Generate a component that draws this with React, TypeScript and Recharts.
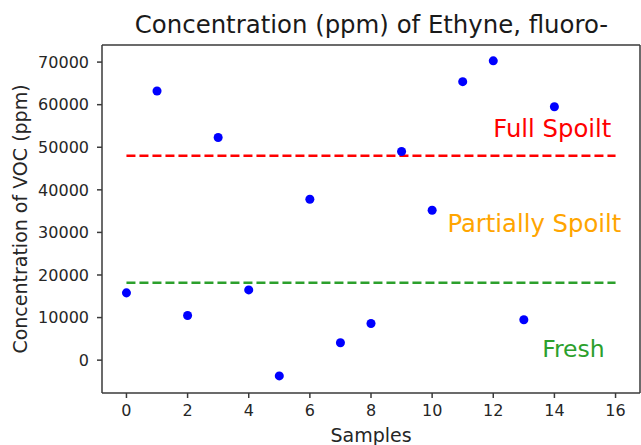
import {
  ScatterChart,
  Scatter,
  XAxis,
  YAxis,
  ReferenceLine,
  ReferenceDot,
  Label,
} from 'recharts';

const sampleIds = [0, 1, 2, 3, 4, 5, 6, 7, 8, 9, 10, 11, 12, 13, 14];
const concentrations = [
  15800, 63200, 10500, 52300, 16500, -3700, 37800, 4100, 8600, 49000, 35200, 65400, 70300, 9500, 59500,
];
const xTicks = [0, 2, 4, 6, 8, 10, 12, 14, 16];
const yTicks = [0, 10000, 20000, 30000, 40000, 50000, 60000, 70000];

const fullSpoiltLevel = 48000;
const freshLevel = 18200;
const thresholdStart = 0;
const thresholdEnd = 16;

const annotationTexts = ['Full Spoilt', 'Partially Spoilt', 'Fresh'];
const annotationX = [12, 10.5, 13.6];
const annotationY = [52400, 30000, 800];
const annotationColors = ['#ff0000', '#ffa500', '#2ca02c'];
const annotationSizes = [24.3, 24.3, 23.5];

const X_MIN = -0.8;
const X_MAX = 16.8;
const Y_MIN = -7715;
const Y_MAX = 74015;

const FONT = "'DejaVu Sans', sans-serif";
const SPINE = '#3a3a3a';

const points = sampleIds.map((s, i) => ({ x: s, y: concentrations[i] }));

function AnnotationLabel(props: any) {
  const { viewBox, text, color, size } = props;
  if (!viewBox) return null;
  return (
    <text
      x={viewBox.x + (viewBox.width || 0) / 2}
      y={viewBox.y + (viewBox.height || 0) / 2}
      fill={color}
      fontSize={size}
      fontFamily={FONT}
      textAnchor="start"
    >
      {text}
    </text>
  );
}

export default function App() {
  return (
    <div style={{ position: 'absolute', left: 0, top: 0, width: 641, height: 445, background: '#fff', fontFamily: FONT }}>
      <div
        style={{
          position: 'absolute',
          left: 102,
          top: 13,
          width: 539,
          textAlign: 'center',
          fontSize: 24.4,
          lineHeight: '24px',
          color: '#1a1a1a',
          whiteSpace: 'nowrap',
        }}
      >
        Concentration (ppm) of Ethyne, fluoro-
      </div>
      <ScatterChart width={641} height={445} margin={{ top: 45, right: 1, bottom: 0, left: 0 }}>
        <XAxis
          type="number"
          dataKey="x"
          domain={[X_MIN, X_MAX]}
          ticks={xTicks}
          allowDataOverflow
          height={52}
          tickSize={5}
          tickMargin={7}
          stroke={SPINE}
          strokeWidth={1.5}
          tick={{ fill: '#262626', fontSize: 16, fontFamily: FONT }}
        >
          <Label
            value="Samples"
            position="insideBottom"
            offset={3}
            style={{ fill: '#262626', fontSize: 19, fontFamily: FONT }}
          />
        </XAxis>
        <YAxis
          type="number"
          dataKey="y"
          domain={[Y_MIN, Y_MAX]}
          ticks={yTicks}
          allowDataOverflow
          width={102}
          tickSize={5}
          tickMargin={8}
          stroke={SPINE}
          strokeWidth={1.5}
          tick={{ fill: '#262626', fontSize: 16, fontFamily: FONT }}
        >
          <Label
            value="Concentration of VOC (ppm)"
            angle={-90}
            position="insideLeft"
            offset={20}
            style={{ fill: '#262626', fontSize: 19, fontFamily: FONT, textAnchor: 'middle' }}
          />
        </YAxis>
        <ReferenceLine y={Y_MAX} stroke={SPINE} strokeWidth={1.5} />
        <ReferenceLine x={X_MAX} stroke={SPINE} strokeWidth={1.5} />
        <ReferenceLine
          segment={[
            { x: thresholdStart, y: fullSpoiltLevel },
            { x: thresholdEnd, y: fullSpoiltLevel },
          ]}
          stroke="#ff0000"
          strokeWidth={2.5}
          strokeDasharray="9 4"
        />
        <ReferenceLine
          segment={[
            { x: thresholdStart, y: freshLevel },
            { x: thresholdEnd, y: freshLevel },
          ]}
          stroke="#2ca02c"
          strokeWidth={2.5}
          strokeDasharray="9 4"
        />
        <Scatter data={points} fill="#0000ff" isAnimationActive={false} />
        {annotationTexts.map((t, i) => (
          <ReferenceDot
            key={t}
            x={annotationX[i]}
            y={annotationY[i]}
            r={0}
            fill="none"
            stroke="none"
            label={<AnnotationLabel text={t} color={annotationColors[i]} size={annotationSizes[i]} />}
          />
        ))}
      </ScatterChart>
    </div>
  );
}
